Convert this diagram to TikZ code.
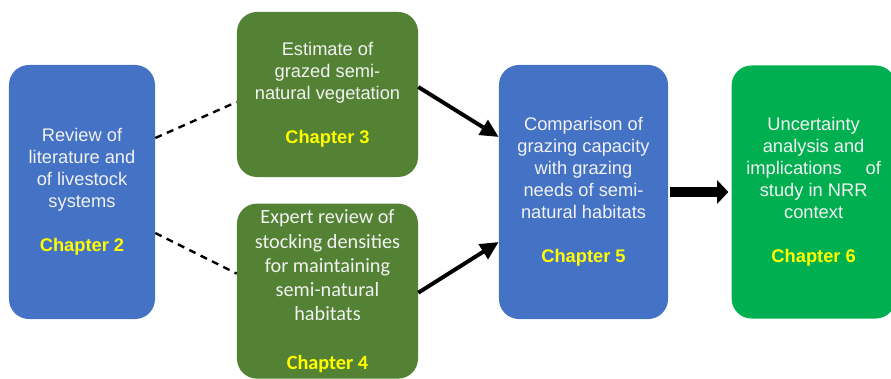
\documentclass[tikz,border=0pt]{standalone}
\usepackage{fontspec}
\setsansfont{Liberation Sans}
\newfontfamily\calibrifont{Carlito}
\usetikzlibrary{positioning,arrows.meta}

\definecolor{boxblue}{HTML}{4472C4}
\definecolor{boxolive}{HTML}{548235}
\definecolor{boxgreen}{HTML}{00B050}
\definecolor{chapyellow}{HTML}{FFFF00}
\definecolor{boxtext}{HTML}{F2F2F2}

\newcommand{\chapterlabel}[1]{\textbf{\textcolor{chapyellow}{#1}}}

\begin{document}
\begin{tikzpicture}[
    x=0.025cm, y=-0.025cm,
    box/.style={rectangle, rounded corners=0.5cm, align=center, text=boxtext, inner sep=2pt,
        font=\sffamily\fontsize{13}{15.6}\selectfont},
    bluebox/.style={box, fill=boxblue, minimum width=3.65cm, minimum height=6.35cm},
    olivebox/.style={box, fill=boxolive, minimum width=4.525cm},
    greenbox/.style={box, fill=boxgreen, minimum width=4.1cm, minimum height=6.325cm},
    dashedline/.style={line width=1.7pt, dash pattern=on 5pt off 4pt},
    line/.style={-{Triangle[length=13pt,width=12pt]}, line width=2.8pt},
    bigline/.style={-{Triangle[length=8pt,width=16.5pt]}, line width=7pt}
]
\useasboundingbox (0,0) rectangle (891,379);

% Left: review
\node[bluebox] (lit) at (82,192) {Review of\\literature and\\of livestock\\systems\\[15.6pt]\chapterlabel{Chapter 2}};

% Middle column: two green boxes
\node[olivebox, minimum height=4.125cm] (est) at (327.5,94.5) {Estimate of\\grazed semi-\\natural vegetation\\[15.6pt]\chapterlabel{Chapter 3}};
\node[olivebox, minimum height=4.375cm, below=0.65cm of est,
    font=\calibrifont\fontsize{14.4}{17.2}\selectfont] (expert) {Expert review of\\stocking densities\\for maintaining\\semi-natural\\habitats\\[17.2pt]\chapterlabel{Chapter 4}};

% Right: comparison and uncertainty
\node[bluebox, minimum width=4.225cm] (comp) at (583.5,192) {Comparison of\\grazing capacity\\with grazing\\needs of semi-\\natural habitats\\[15.6pt]\chapterlabel{Chapter 5}};
\node[greenbox, right=1.575cm of comp] (uncert) {Uncertainty\\analysis and\\implications\hspace{17pt}of\\study in NRR\\context\\[15.6pt]\chapterlabel{Chapter 6}};

% Connectors
\draw[dashedline] ([yshift=1.35cm]lit.east) -- ([yshift=-0.1875cm]est.west);
\draw[dashedline] ([yshift=-1.025cm]lit.east) -- ([yshift=0.4375cm]expert.west);
\draw[line] ([yshift=0.1875cm]est.east) -- ([yshift=1.375cm]comp.west);
\draw[line] ([yshift=-0.04cm]expert.east) -- ([yshift=-1.25cm]comp.west);
\draw[bigline] ([xshift=0.05cm]comp.east) -- ([xshift=-0.075cm]uncert.west);

\end{tikzpicture}
\end{document}
